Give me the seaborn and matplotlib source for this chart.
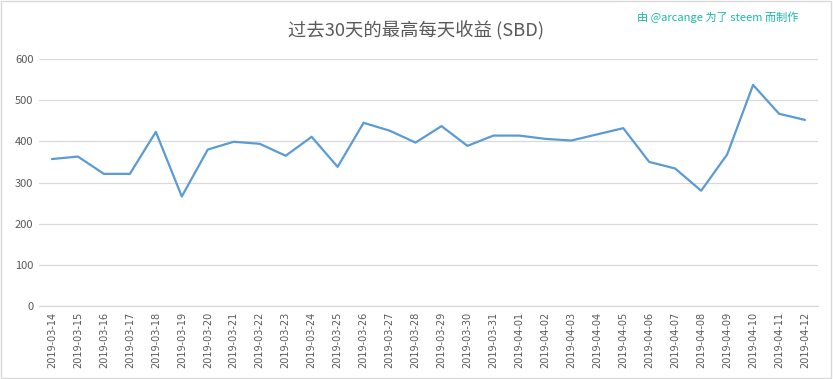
import matplotlib
matplotlib.use("Agg")
import matplotlib.pyplot as plt
import seaborn as sns
import pandas as pd

# --- data ---
dates = ["2019-03-14", "2019-03-15", "2019-03-16", "2019-03-17", "2019-03-18",
         "2019-03-19", "2019-03-20", "2019-03-21", "2019-03-22", "2019-03-23",
         "2019-03-24", "2019-03-25", "2019-03-26", "2019-03-27", "2019-03-28",
         "2019-03-29", "2019-03-30", "2019-03-31", "2019-04-01", "2019-04-02",
         "2019-04-03", "2019-04-04", "2019-04-05", "2019-04-06", "2019-04-07",
         "2019-04-08", "2019-04-09", "2019-04-10", "2019-04-11", "2019-04-12"]
max_sbd = [357, 363, 321, 321, 423, 266, 380, 399, 394, 365,
           411, 338, 445, 426, 397, 437, 389, 414, 414, 406,
           402, 417, 432, 350, 334, 280, 368, 537, 467, 452]
y_ticks = [0, 100, 200, 300, 400, 500, 600]

title = "过去30天的最高每天收益 (SBD)"
credit = "由 @arcange 为了 steem 而制作"

df = pd.DataFrame({"date": dates, "sbd": max_sbd})

sns.set_style("white")
plt.rcParams["font.family"] = ["Noto Sans CJK SC", "DejaVu Sans"]

fig = plt.figure(figsize=(8.33, 3.79), dpi=100)
ax = fig.add_axes([0.0468, 0.1926, 0.9352, 0.6517])

df["pos"] = range(len(df))
sns.lineplot(data=df, x="pos", y="sbd", ax=ax, color="#5b9bd5", linewidth=1.6)

ax.set_xlim(-0.5, len(dates) - 0.5)
ax.set_ylim(0, 600)
ax.set_xticks(range(len(dates)))
ax.set_xticklabels(dates, rotation=90, fontsize=7, color="#595959",
                   family=["DejaVu Sans"])
ax.set_yticks(y_ticks)
ax.set_yticklabels([str(v) for v in y_ticks], fontsize=8, color="#595959")
ax.tick_params(axis="both", length=0, pad=4)
ax.set_xlabel("")
ax.set_ylabel("")

ax.grid(axis="y", color="#d9d9d9", linewidth=0.9)
ax.set_axisbelow(True)
for s in ["top", "right", "left"]:
    ax.spines[s].set_visible(False)
ax.spines["bottom"].set_color("#d9d9d9")
ax.spines["bottom"].set_linewidth(0.9)

fig.text(0.499, 0.919, title, ha="center", va="center", fontsize=13.2, color="#595959")
fig.text(0.958, 0.955, credit, ha="right", va="center", fontsize=8, color="#17b8a6")

# light frame round the whole picture
fig.patches.append(plt.Rectangle((0.001, 0.002), 0.997, 0.995, transform=fig.transFigure,
                                 fill=False, edgecolor="#d9d9d9", linewidth=1))

fig.savefig("out.png", dpi=100)
